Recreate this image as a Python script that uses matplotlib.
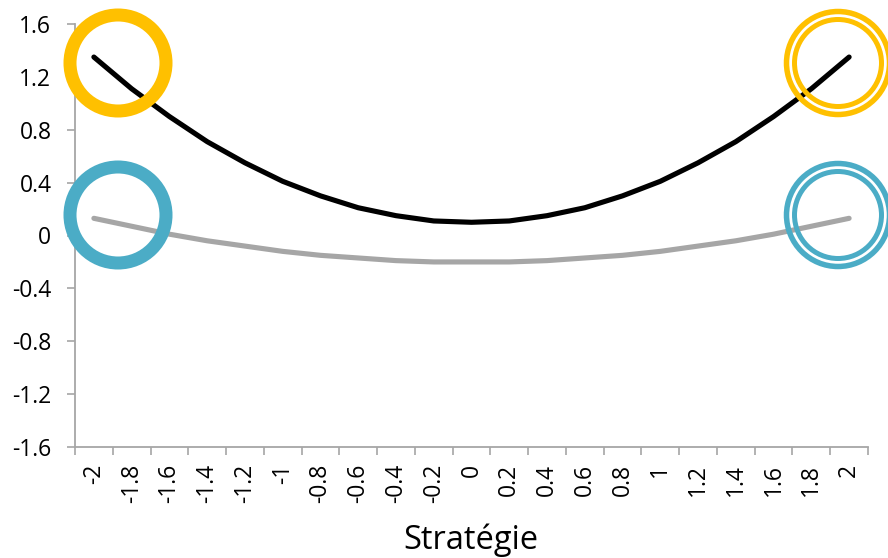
import matplotlib
matplotlib.use("Agg")
import matplotlib.pyplot as plt
from matplotlib.patches import Ellipse
import numpy as np

plt.rcParams["font.family"] = ["Open Sans", "DejaVu Sans"]

# catégories de l'axe x et valeurs
STRATS = ["-2", "-1.8", "-1.6", "-1.4", "-1.2", "-1", "-0.8", "-0.6", "-0.4", "-0.2", "0",
          "0.2", "0.4", "0.6", "0.8", "1", "1.2", "1.4", "1.6", "1.8", "2"]
NOIR = [1.35, 1.11, 0.90, 0.71, 0.55, 0.41, 0.30, 0.21, 0.15, 0.11, 0.10,
        0.11, 0.15, 0.21, 0.30, 0.41, 0.55, 0.71, 0.90, 1.11, 1.35]
GRIS = [0.13, 0.07, 0.01, -0.04, -0.08, -0.12, -0.15, -0.17, -0.19, -0.20, -0.20,
        -0.20, -0.19, -0.17, -0.15, -0.12, -0.08, -0.04, 0.01, 0.07, 0.13]
YTICKS = [-1.6, -1.2, -0.8, -0.4, 0, 0.4, 0.8, 1.2, 1.6]

W, H = 888, 558
AXC = "#A6A6A6"
FS = 16.5

fig = plt.figure(figsize=(W / 100, H / 100), dpi=100)
ax = fig.add_axes([75 / W, (H - 447) / H, 793 / W, (447 - 24) / H])

x = np.arange(len(STRATS))
ax.plot(x, NOIR, color="black", lw=3.7, solid_capstyle="round", zorder=3)
ax.plot(x, GRIS, color="#A6A6A6", lw=3.7, solid_capstyle="round", zorder=3)

ax.set_xlim(-0.5, len(STRATS) - 0.5)
ax.set_ylim(-1.6, 1.6)
ax.set_yticks(YTICKS)
ax.set_yticklabels(["%g" % v for v in YTICKS])

# ticks aux limites des catégories, étiquettes au centre
ax.set_xticks(np.arange(-0.5, len(STRATS), 1.0))
ax.set_xticklabels([])
ax.set_xticks(x, minor=True)
ax.set_xticklabels(STRATS, minor=True, rotation=90, va="top", ha="center")
ax.tick_params(axis="x", which="major", length=6, width=1.2, color=AXC, direction="out")
ax.tick_params(axis="x", which="minor", length=0, pad=12, labelsize=FS)
ax.tick_params(axis="y", length=6, width=1.2, color=AXC, pad=11, labelsize=FS)

for s in ["top", "right"]:
    ax.spines[s].set_visible(False)
for s in ["left", "bottom"]:
    ax.spines[s].set_color(AXC)
    ax.spines[s].set_linewidth(1.3)

fig.text(471 / W, (H - 549) / H, "Stratégie", fontsize=23.5, ha="center", va="baseline")


def ring(cx, cy, r, lw_px, col):
    e = Ellipse((cx / W, 1 - cy / H), 2 * r / W, 2 * r / H, transform=fig.transFigure,
                fill=False, edgecolor=col, lw=lw_px * 0.72, zorder=10)
    fig.patches.append(e)


YEL, BLU = "#FFC000", "#4BACC6"
# anneaux simples à gauche, doubles à droite
ring(118, 63, 48, 13, YEL)
ring(118, 215, 48, 13, BLU)
for cy, col in [(63, YEL), (215, BLU)]:
    ring(838, cy, 51.5, 5.5, col)
    ring(838, cy, 43.5, 5, col)

fig.savefig("out.png", dpi=100, facecolor="white")
